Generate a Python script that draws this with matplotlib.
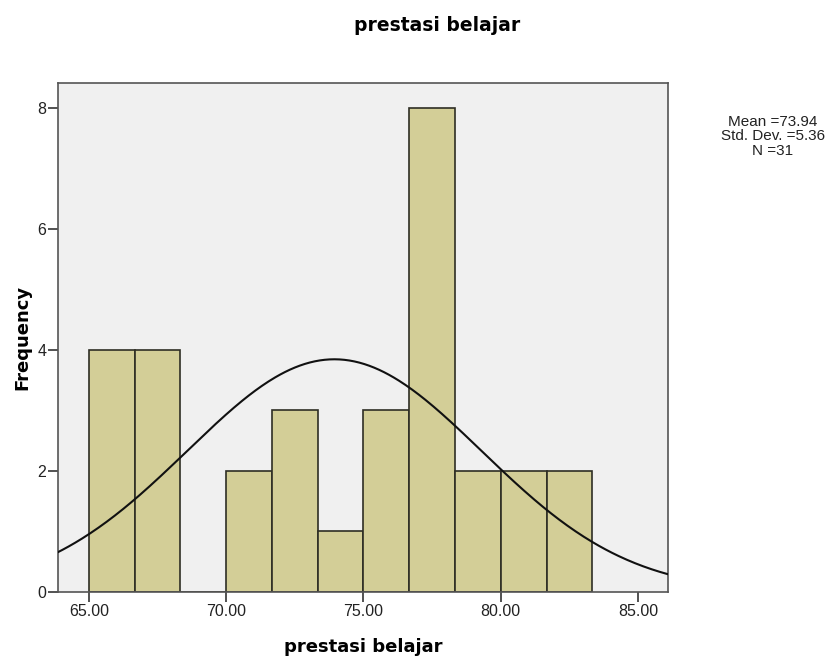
import numpy as np
import matplotlib
matplotlib.use("Agg")
import matplotlib.pyplot as plt

# histogram of "prestasi belajar" (SPSS style)
bin_edges = [65.00, 66.67, 68.33, 70.00, 71.67, 73.33, 75.00, 76.67, 78.33, 80.00, 81.67, 83.33]
counts = [4, 4, 0, 2, 3, 1, 3, 8, 2, 2, 2]
mean = 73.94
std = 5.36
n = 31
x_ticks = [65, 70, 75, 80, 85]
y_ticks = [0, 2, 4, 6, 8]


def main():
    fig = plt.figure(figsize=(8.32, 6.58), dpi=100)
    ax = fig.add_axes([0.0697, 0.1003, 0.7333, 0.7736])
    ax.set_facecolor("#f0f0f0")

    edges = np.array(bin_edges)
    widths = np.diff(edges)
    ax.bar(edges[:-1], counts, width=widths, align="edge",
           color="#d3ce97", edgecolor="#2e2e24", linewidth=1.2, zorder=2)

    # normal curve scaled to the histogram
    bw = widths.mean()
    xs = np.linspace(63.0, 87.0, 400)
    ys = n * bw * np.exp(-0.5 * ((xs - mean) / std) ** 2) / (std * np.sqrt(2 * np.pi))
    ax.plot(xs, ys, color="#111111", linewidth=1.5, zorder=3)

    ax.set_xlim(63.87, 86.1)
    ax.set_ylim(0, 8.41)
    ax.set_xticks(x_ticks)
    ax.set_xticklabels([f"{t:.2f}" for t in x_ticks])
    ax.set_yticks(y_ticks)

    for s in ax.spines.values():
        s.set_color("#555555")
        s.set_linewidth(1.2)
    ax.tick_params(direction="out", length=7, width=1.2, color="#333333",
                   pad=1.5, labelsize=11.5, labelcolor="#222222")
    for lab in ax.get_xticklabels() + ax.get_yticklabels():
        lab.set_family("Liberation Sans")

    ax.set_xlabel("prestasi belajar", fontsize=13, fontweight="bold", labelpad=14)
    ax.set_ylabel("Frequency", fontsize=13, fontweight="bold", labelpad=4)
    fig.text(0.525, 0.962, "prestasi belajar", fontsize=13.5, fontweight="bold",
             ha="center", va="center")

    fig.text(0.929, 0.793, f"Mean ={mean:.2f}\nStd. Dev. ={std:.2f}\nN ={n}",
             family="Liberation Sans", fontsize=11, ha="center", va="center",
             linespacing=1.05, color="#222222")

    fig.savefig("out.png", dpi=100)


if __name__ == "__main__":
    main()
